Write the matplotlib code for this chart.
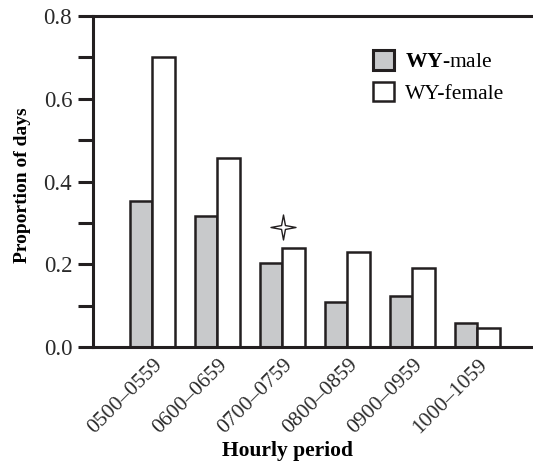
import numpy as np
import matplotlib.pyplot as plt
from matplotlib.path import Path
from matplotlib.patches import Patch

plt.rcParams['font.family'] = ['Liberation Serif', 'DejaVu Serif']
plt.rcParams['mathtext.fontset'] = 'custom'
plt.rcParams['mathtext.rm'] = 'Liberation Serif'
plt.rcParams['mathtext.bf'] = 'Liberation Serif:bold'

# data
periods = ['0500\u20130559', '0600\u20130659', '0700\u20130759',
           '0800\u20130859', '0900\u20130959', '1000\u20131059']
male = [0.353, 0.317, 0.203, 0.108, 0.123, 0.058]
female = [0.702, 0.457, 0.239, 0.230, 0.190, 0.045]
star_idx = 2
star_y = 0.29

ink = '#231f20'
grey = '#c8c9cb'

fig = plt.figure(figsize=(5.33, 4.66), dpi=100)
ax = fig.add_axes([93 / 533, 1 - 347 / 466, 1 - 93 / 533, 331 / 466])

x = np.arange(len(periods))
w = 0.345
ax.bar(x - w / 2, male, w, color=grey, edgecolor=ink, linewidth=1.8, zorder=2)
ax.bar(x + w / 2, female, w, color='white', edgecolor=ink, linewidth=1.8, zorder=2)

# four-pointed star marker
t = np.linspace(0, 2 * np.pi, 9)[:-1] + np.pi / 2
r = np.where(np.arange(8) % 2 == 0, 1.0, 0.22)
verts = np.column_stack([r * np.cos(t), r * np.sin(t)])
star = Path(np.vstack([verts, verts[:1]]), closed=True)
ax.plot([x[star_idx] + 0.02], [star_y], marker=star, markersize=18,
        markerfacecolor='white', markeredgecolor=ink, markeredgewidth=1.0,
        linestyle='none', zorder=3)

ax.set_xlim(-0.91, 5.86)
ax.set_ylim(0, 0.8)
ax.set_yticks([0.0, 0.2, 0.4, 0.6, 0.8])
ax.set_yticklabels(['0.0', '0.2', '0.4', '0.6', '0.8'], fontsize=16.5, color='#2a2a2a')
ax.set_yticks([0.1, 0.3, 0.5, 0.7], minor=True)
# x ticks are hidden; nudged right so the rotated labels end just past the group centre
ax.set_xticks(x + 0.12)
ax.set_xticklabels(periods, rotation=45, ha='right', va='center',
                   rotation_mode='anchor', fontsize=15.5, color='#2a2a2a')
ax.tick_params(axis='y', which='both', direction='out', length=11, width=2.2,
               color=ink, pad=4)
ax.tick_params(axis='x', length=0, pad=11)

for s in ['left', 'top', 'bottom']:
    ax.spines[s].set_linewidth(2.2)
    ax.spines[s].set_color(ink)
ax.spines['right'].set_visible(False)

ax.set_ylabel('Proportion of days', fontsize=14, fontweight='bold')
ax.yaxis.set_label_coords(-0.141, 0.489)
ax.set_xlabel('Hourly period', fontsize=15.5, fontweight='bold')
ax.xaxis.set_label_coords(0.443, -0.285)

handles = [Patch(facecolor=grey, edgecolor=ink, linewidth=2.2),
           Patch(facecolor='white', edgecolor=ink, linewidth=1.8)]
ax.legend(handles, [r'$\mathbf{WY}$-male', 'WY-female'], loc='upper left',
          bbox_to_anchor=(0.592, 0.955), frameon=False, fontsize=15.5,
          handlelength=1.0, handleheight=1.0, handletextpad=0.5,
          labelspacing=0.45)

fig.savefig('out.png', dpi=100)
